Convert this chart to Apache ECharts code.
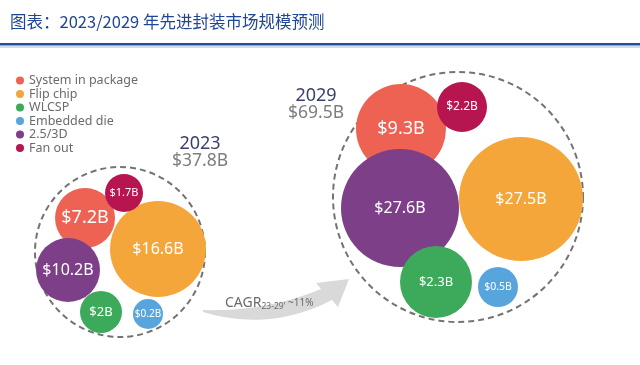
<!DOCTYPE html>
<html>
<head>
<meta charset="utf-8">
<script src="https://cdn.jsdelivr.net/npm/echarts@6/dist/echarts.min.js"></script>
<style>html,body{margin:0;padding:0;background:#fff;}#c{width:640px;height:365px;}</style>
</head>
<body>
<div id="c"></div>
<script>
// ---- data ----
const titleText = '图表：2023/2029 年先进封装市场规模预测';
const categories = ['System in package', 'Flip chip', 'WLCSP', 'Embedded die', '2.5/3D', 'Fan out'];
const years = ['2023', '2029'];
const totals = [37.8, 69.5];
const values2023 = [7.2, 16.6, 2, 0.2, 10.2, 1.7];
const values2029 = [9.3, 27.5, 2.3, 0.5, 27.6, 2.2];
const cagrLabel = '~11%';
const cagrPeriod = '23-29';

// ---- layout (positions in canvas-pixel data space, radii, styles) ----
const colors = ['#EE6253', '#F5A63B', '#3DAA5B', '#58A5DD', '#7D3F88', '#B61550'];
const drawOrder = [0, 2, 3, 5, 1, 4]; // z offset per category
const centers = [
  [[85, 218], [158, 249], [101, 312], [148, 314], [68, 270], [124, 193]],
  [[401, 129], [521, 199], [436, 282], [498, 287], [400, 208], [462, 107]]
];
const radii = [
  [30, 48, 21, 15, 32, 19],
  [45, 62, 36, 20, 59, 25]
];
const labelSizes = [
  [18, 16, 13, 10, 16, 11],
  [18, 16, 13, 10.5, 16, 12]
];
const ringCenters = [[120, 252], [458, 197]];
const ringRadii = [85, 125];
const yearLabelPos = [[200, 144], [316, 96]];

const valuesByYear = [values2023, values2029];
const fmt = v => '$' + v + 'B';

const series = categories.map((name, i) => ({
  name: name,
  type: 'scatter',
  z: 3 + drawOrder[i],
  itemStyle: { color: colors[i], opacity: 1 },
  emphasis: { disabled: true },
  label: {
    show: true, position: 'inside', color: '#fff',
    fontFamily: 'Noto Sans',
    formatter: p => fmt(p.value[2])
  },
  data: years.map((y, k) => ({
    value: [centers[k][i][0], centers[k][i][1], valuesByYear[k][i]],
    symbolSize: radii[k][i] * 2,
    label: { fontSize: labelSizes[k][i] }
  }))
}));

series.unshift({
  name: 'ring',
  type: 'scatter',
  z: 1,
  silent: true,
  itemStyle: { color: 'rgba(0,0,0,0)', borderColor: '#505050', borderWidth: 2, borderType: [6, 4] },
  data: ringCenters.map((c, k) => ({ value: c, symbolSize: ringRadii[k] * 2 }))
});

// curved arrow outline (decoration) sampled from quadratic curves
function quad(p0, p1, p2, n) {
  const pts = [];
  for (let j = 0; j <= n; j++) {
    const t = j / n, u = 1 - t;
    pts.push([u * u * p0[0] + 2 * u * t * p1[0] + t * t * p2[0], u * u * p0[1] + 2 * u * t * p1[1] + t * t * p2[1]]);
  }
  return pts;
}
const arrowPts = [].concat(
  quad([203, 310], [265, 312], [321, 289], 24),
  [[316, 283], [349, 279], [338, 307]],
  quad([332, 300], [270, 332], [203, 312], 24)
);

const graphics = [
  { type: 'text', x: 10, y: 22, style: { text: titleText, fill: '#1F4596', font: '16.5px "Noto Sans CJK SC"', textVerticalAlign: 'middle' } },
  { type: 'rect', shape: { x: 0, y: 43, width: 640, height: 2.5 }, style: { fill: '#1E4E9E' } },
  { type: 'rect', shape: { x: 0, y: 46.5, width: 640, height: 1 }, style: { fill: '#A8B8D6' } },
  { type: 'polygon', z: 0, shape: { points: arrowPts }, style: { fill: '#D9D9D9' } },
  { type: 'text', z: 10, x: 225, y: 303,
    style: {
      text: '{a|CAGR}{b|' + cagrPeriod + '\'}{c| ' + cagrLabel + '}',
      textVerticalAlign: 'middle',
      rich: {
        a: { fontSize: 14, fill: '#6a6a6a', fontFamily: 'Noto Sans' },
        b: { fontSize: 8.5, fill: '#6a6a6a', fontFamily: 'Noto Sans', padding: [7, 0, 0, 0] },
        c: { fontSize: 10, fill: '#6a6a6a', fontFamily: 'Noto Sans' }
      }
    } }
];
years.forEach((y, k) => {
  graphics.push({ type: 'text', x: yearLabelPos[k][0], y: yearLabelPos[k][1], z: 10,
    style: { text: y, fill: '#3A3F6B', font: '18px "Noto Sans"', textAlign: 'center', textVerticalAlign: 'middle' } });
  graphics.push({ type: 'text', x: yearLabelPos[k][0], y: yearLabelPos[k][1] + 17, z: 10,
    style: { text: fmt(totals[k]), fill: '#7d7d7d', font: '17.5px "Noto Sans"', textAlign: 'center', textVerticalAlign: 'middle' } });
});

const chart = echarts.init(document.getElementById('c'), null, { renderer: 'canvas' });
chart.setOption({
  animation: false,
  grid: { left: 0, right: 0, top: 0, bottom: 0 },
  xAxis: { type: 'value', min: 0, max: 640, show: false },
  yAxis: { type: 'value', min: 0, max: 365, inverse: true, show: false },
  legend: {
    data: categories, orient: 'vertical', left: 16, top: 74, padding: 0,
    icon: 'circle', itemWidth: 8, itemHeight: 8, itemGap: 0.5,
    selectedMode: false,
    textStyle: { fontSize: 12.5, lineHeight: 13, color: '#6b6b6b', fontFamily: 'Noto Sans' }
  },
  graphic: graphics,
  series: series
});
</script>
</body>
</html>
